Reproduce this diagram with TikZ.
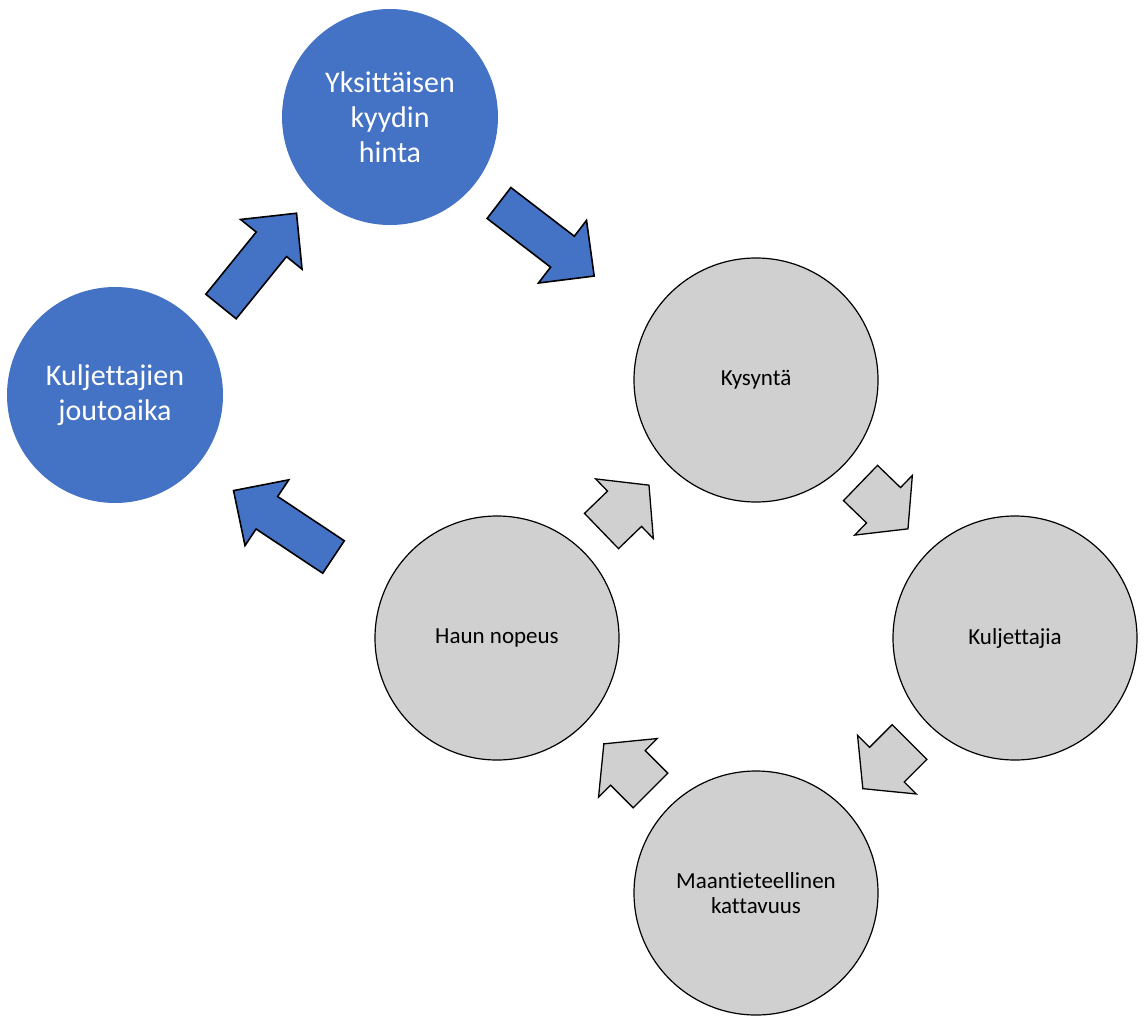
\documentclass[tikz,border=0pt]{standalone}
\usepackage{fontspec}
\setmainfont{Carlito}[Ligatures=NoCommon]
\usepackage{xcolor}
\definecolor{officeblue}{HTML}{4472C4}
\definecolor{lightgrey}{HTML}{D0D0D0}
\tikzstyle{bluecircle} = [circle, fill=officeblue, minimum size=216pt, inner sep=0pt, text=white, align=center, font=\fontsize{30}{35}\selectfont]
\tikzstyle{greycircle} = [circle, fill=lightgrey, draw=black, line width=1.2pt, minimum size=244pt, inner sep=0pt, align=center, font=\fontsize{23}{25}\selectfont]
\tikzstyle{bluearrowstyle} = [fill=officeblue, draw=black, line width=1.6pt, line join=miter]
\tikzstyle{greyarrowstyle} = [fill=lightgrey, draw=black, line width=1.3pt, line join=miter]
\tikzset{
  pics/bluearrow/.style={code={
    \draw[bluearrowstyle] (0,-19.5) -- (80,-19.5) -- (80,-39.5) -- (120,0) -- (80,39.5) -- (80,19.5) -- (0,19.5) -- cycle;}},
  pics/greyarrow/.style={code={
    \draw[greyarrowstyle] (0,-24.5) -- (32,-24.5) -- (32,-41.5) -- (66,0) -- (32,41.5) -- (32,24.5) -- (0,24.5) -- cycle;}}
}

\begin{document}
\begin{tikzpicture}[x=1pt, y=-1pt]
        \useasboundingbox (0,0) rectangle (1147,1019);

        \node[bluecircle] (hinta) at (390,117) {Yksittäisen\\kyydin\\hinta};
        \node[bluecircle] (joutoaika) at (115,395) {Kuljettajien\\joutoaika};

        \node[greycircle] (kysynta) at (756,380) {Kysyntä};
        \node[greycircle] (kuljettajia) at (1015,638) {Kuljettajia};
        \node[greycircle] (kattavuus) at (756,893) {Maantieteellinen\\kattavuus};
        \node[greycircle] (nopeus) at (497,638) {Haun nopeus};

        \pic[rotate=51] at (221,306.5) {bluearrow};
        \pic[rotate=-37.5] at (499,203) {bluearrow};
        \pic[rotate=146.4] at (333.5,557) {bluearrow};

        \pic[rotate=44] at (601.5,531) {greyarrow};
        \pic[rotate=-44] at (860.5,483) {greyarrow};
        \pic[rotate=225] at (909.5,742) {greyarrow};
        \pic[rotate=135] at (650.5,790.5) {greyarrow};

    \end{tikzpicture}
\end{document}
